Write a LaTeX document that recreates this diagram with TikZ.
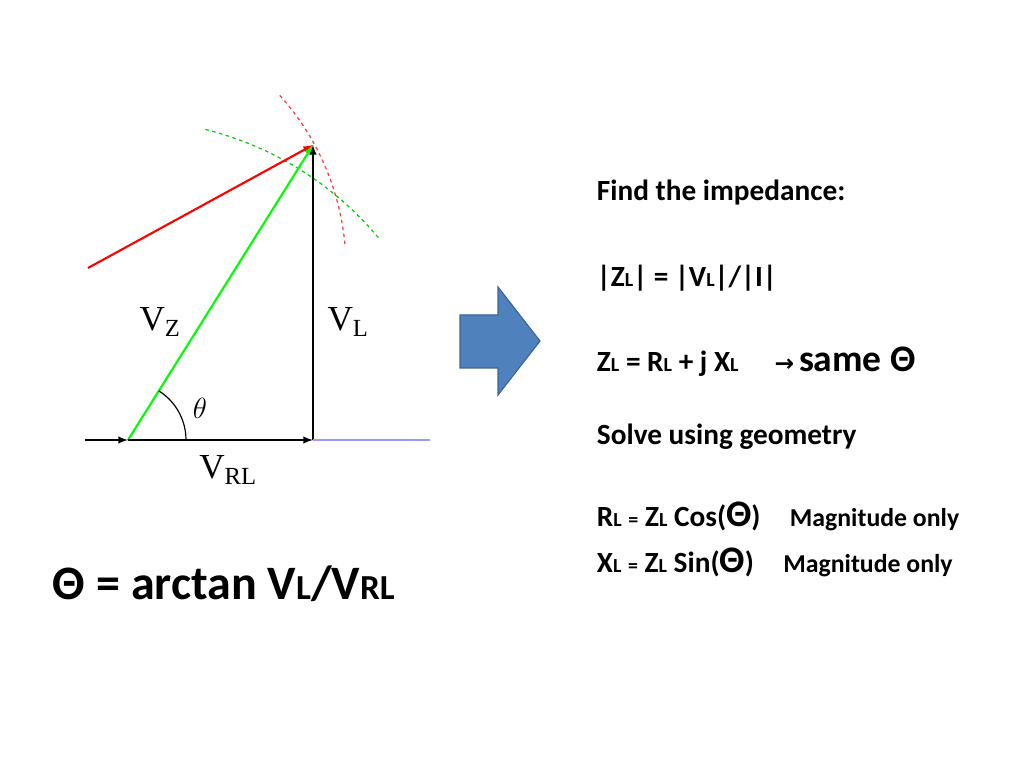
\documentclass[tikz,border=0pt]{standalone}
\usepackage{fontspec}
\setmainfont{Carlito}
\newfontfamily\serif{Liberation Serif}
\usetikzlibrary{calc}
\definecolor{arrowblue}{HTML}{4F81BD}
\definecolor{arrowedge}{HTML}{3A6496}
\begin{document}
\begin{tikzpicture}[x=0.03cm, y=-0.03cm, line width=1.8pt, >=latex]
    \tikzset{
        vlabel/.style={font=\serif\fontsize{30}{30}\selectfont},
        txt/.style={anchor=west, font=\bfseries\fontsize{25}{29}\selectfont},
    }
    \useasboundingbox (0,0) rectangle (1024,768);

    \coordinate (O) at (128,440);
    \coordinate (P) at (313,145);
    \coordinate (R) at (313,440);
    \coordinate (S) at (88,268);

    % dashed arcs
    \draw[green!80!black, dashed, line width=1pt] (O) ++(-76:320) arc (-76:-40:330);
    \draw[red!80, dashed, line width=1pt] (S) ++(-42:258) arc (-42:-5:258);

    % phasors
    \draw[->, red] (S) -- (P);
    \draw[->, green] (O) -- (P);
    \draw[->] (R) -- (P);
    \draw[->] (O) -- (R);
    \draw[->] (85,440) -- (O);
    \draw[blue!40] (R) -- (430,440);
    \draw[line width=1pt] (O) ++(0:58) arc (0:-58:58);

    \node[vlabel] (vz) at (160,322) {V\textsubscript{Z}};
    \node[vlabel] (vl) at (348,322) {V\textsubscript{L}};
    \node[vlabel] (th) at (200,408) {$\theta$};
    \node[vlabel] (vrl) at (228,470) {V\textsubscript{RL}};

    % block arrow
    \draw[fill=arrowblue, draw=arrowedge, line width=1pt] (460,315) -- (498,315) -- (498,287) -- (540,341)
        -- (498,395) -- (498,368) -- (460,368) -- cycle;

    \newcommand\sm[1]{{\fontsize{17}{17}\selectfont #1}}
    \node[txt] (find) at (592,193) {Find the impedance:};
    \node[txt] (mag) at (592,278) {|Z\sm{L}| = |V\sm{L}|/|I|};
    \node[txt] (zl) at (592,362) {Z\sm{L} = R\sm{L} + j X\sm{L} \quad{\fontspec{DejaVu Sans}\fontsize{20}{20}\selectfont →}\,{\fontsize{32}{32}\selectfont same Θ}};
    \node[txt] (geo) at (592,437) {Solve using geometry};
    \node[txt] (rl) at (592,516) {R\sm{L} \sm{=} Z\sm{L} Cos({\fontsize{32}{32}\selectfont Θ})\quad{\fontsize{22}{25}\selectfont Magnitude only}};
    \node[txt] (xl) at (592,562) {X\sm{L} \sm{=} Z\sm{L} Sin({\fontsize{32}{32}\selectfont Θ})\quad{\fontsize{22}{25}\selectfont Magnitude only}};
    \node[txt, font=\bfseries\fontsize{41}{45}\selectfont] (arctan) at (48,584) {Θ = arctan V{\fontsize{30}{30}\selectfont L}/V{\fontsize{30}{30}\selectfont RL}};
\end{tikzpicture}
\end{document}
